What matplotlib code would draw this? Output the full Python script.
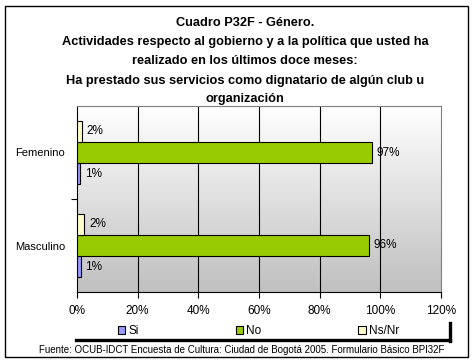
import numpy as np
import matplotlib
matplotlib.use("Agg")
import matplotlib.pyplot as plt
from matplotlib.colors import LinearSegmentedColormap
from matplotlib.lines import Line2D
from matplotlib.patches import Rectangle

plt.rcParams['font.family'] = ['Liberation Sans', 'DejaVu Sans']

# ---------------- data ----------------
categories = ["Femenino", "Masculino"]
series = ["Si", "No", "Ns/Nr"]
si = [0.9, 1.2]
no = [97.3, 96.3]
nsnr = [1.6, 2.4]
colors = ["#9999FF", "#99CC00", "#FFFFCC"]
xticks = [0, 20, 40, 60, 80, 100, 120]

title_lines = ["Cuadro P32F - Género.",
               "Actividades respecto al gobierno y a la política que usted ha",
               "realizado en los últimos doce meses:",
               "Ha prestado sus servicios como dignatario de algún club u",
               "organización"]
source = "Fuente: OCUB-IDCT Encuesta de Cultura: Ciudad de Bogotá 2005. Formulario Básico BPI32F"

W, H = 476, 364
fig = plt.figure(figsize=(W / 100, H / 100), dpi=100)
ax = fig.add_axes([77 / W, 1 - 292 / H, (441 - 77) / W, (292 - 106) / H])

# gradient background
cmap = LinearSegmentedColormap.from_list("bg", ["#FFFFFF", "#C0C0C0"])
grad = np.linspace(0, 1, 256).reshape(-1, 1)
ax.imshow(grad, cmap=cmap, aspect="auto", extent=[0, 120, 1.5, -0.5], zorder=0)

y = np.arange(len(categories))
h = 0.226
offsets = {"Ns/Nr": -h, "No": 0.0, "Si": h}
values = {"Si": si, "No": no, "Ns/Nr": nsnr}
for name, col in zip(series, colors):
    bars = ax.barh(y + offsets[name], values[name], height=h, color=col,
                   edgecolor="black", linewidth=0.8, zorder=3, label=name)
    for b, v in zip(bars, values[name]):
        ax.text(b.get_width() + 1.6, b.get_y() + b.get_height() / 2,
                "%d%%" % round(v), va="center", ha="left", fontsize=8.5, zorder=4)

ax.set_xlim(0, 120)
ax.set_ylim(1.5, -0.5)
ax.set_xticks(xticks)
ax.set_xticklabels(["%d%%" % t for t in xticks], fontsize=8.5)
ax.set_yticks(y)
ax.set_yticklabels(categories, fontsize=8)
ax.set_yticks([0.5], minor=True)
ax.tick_params(axis="y", which="major", length=0, pad=8.6)
ax.tick_params(axis="y", which="minor", length=4, width=0.8, direction="out")
ax.tick_params(axis="x", length=4, width=0.8, direction="out", pad=5)
for t in xticks[1:-1]:
    ax.axvline(t, color="black", linewidth=0.8, zorder=1)
for s in ["top", "right"]:
    ax.spines[s].set_color("#808080")
    ax.spines[s].set_linewidth(0.8)
for s in ["left", "bottom"]:
    ax.spines[s].set_linewidth(0.8)

# titles
ys = [23, 42, 61.5, 81, 99]
for line, yy in zip(title_lines, ys):
    fig.text(245 / W, 1 - yy / H, line, ha="center", va="center",
             fontsize=9.2, fontweight="bold")

# legend
handles, labels = ax.get_legend_handles_labels()
order = [labels.index(s) for s in series]
leg = fig.legend([handles[i] for i in order], [labels[i] for i in order],
                 loc="center left", bbox_to_anchor=(118 / W, 1 - 331 / H),
                 ncol=3, frameon=False, fontsize=8.5, handlelength=0.6,
                 handleheight=0.6, handletextpad=0.3, columnspacing=8.2,
                 borderpad=0, borderaxespad=0)
fig.add_artist(Line2D([76 / W, 450 / W], [1 - 340 / H, 1 - 340 / H],
                      color="black", linewidth=2.4, transform=fig.transFigure))
fig.add_artist(Line2D([450 / W, 450 / W], [1 - 341 / H, 1 - 323 / H],
                      color="black", linewidth=2.4, transform=fig.transFigure))

fig.text(242 / W, 1 - 350 / H, source, ha="center", va="center", fontsize=7.0)

# outer frame
fig.add_artist(Rectangle((5 / W, 1 - 357 / H), 463 / W, 351 / H, fill=False,
                         edgecolor="black", linewidth=1, transform=fig.transFigure))

fig.savefig("out.png", dpi=100)
